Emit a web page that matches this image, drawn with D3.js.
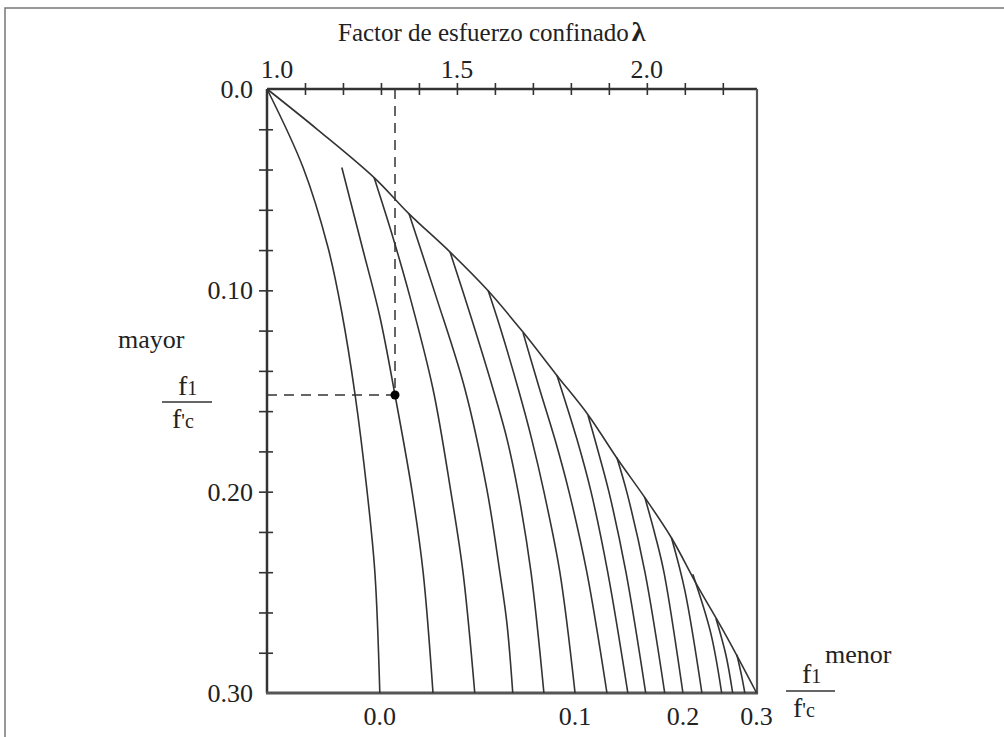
<!DOCTYPE html>
<html>
<head>
<meta charset="utf-8">
<script src="https://cdn.jsdelivr.net/npm/d3@7"></script>
<style>
    body { margin: 0; background: #fff; }
    text { font-family: "Liberation Serif", "Times New Roman", serif; fill: #222; }
</style>
</head>
<body>
<script>
// ticks and labels
const topTicks = [1.1, 1.2, 1.3, 1.4, 1.5, 1.6, 1.7, 1.8, 1.9, 2.0, 2.1, 2.2];
const topLabelValues = [1.0, 1.5, 2.0];
const leftTicks = [0.02, 0.04, 0.06, 0.08, 0.10, 0.12, 0.14, 0.16, 0.18, 0.20, 0.22, 0.24, 0.26, 0.28];
const leftLabelValues = [0, 0.1, 0.2, 0.3];
const leftLabels = ["0.0", "0.10", "0.20", "0.30"];
const bottomLabels = ["0.0", "0.1", "0.2", "0.3"];

// envelope: equal confinement, points [lambda, f1 mayor / f'c]
const envelope = [[1.000, 0], [1.132, 0.020], [1.282, 0.044], [1.374, 0.062], [1.482, 0.081],
    [1.581, 0.100], [1.675, 0.121], [1.762, 0.142], [1.846, 0.162], [1.920, 0.183],
    [1.995, 0.203], [2.065, 0.223], [2.131, 0.246], [2.210, 0.272], [2.289, 0.300]];

// one curve per value of f1 menor / f'c
const menor000 = [[1.000, 0], [1.095, 0.039], [1.161, 0.079], [1.197, 0.111], [1.232, 0.152], [1.263, 0.199], [1.284, 0.240], [1.297, 0.300]];
const menor002 = [[1.197, 0.039], [1.250, 0.078], [1.297, 0.113], [1.337, 0.152], [1.382, 0.200], [1.411, 0.240], [1.437, 0.300]];
const menor004 = [[1.282, 0.044], [1.332, 0.074], [1.376, 0.103], [1.437, 0.149], [1.484, 0.200], [1.516, 0.240], [1.547, 0.300]];
const menor006 = [[1.374, 0.062], [1.445, 0.103], [1.521, 0.149], [1.579, 0.199], [1.613, 0.240], [1.632, 0.266], [1.647, 0.300]];
const menor008 = [[1.482, 0.081], [1.540, 0.115], [1.595, 0.149], [1.632, 0.174], [1.661, 0.200], [1.695, 0.240], [1.729, 0.300]];
const menor010 = [[1.582, 0.100], [1.613, 0.118], [1.663, 0.150], [1.697, 0.174], [1.729, 0.200], [1.771, 0.240], [1.811, 0.300]];
const menor012 = [[1.674, 0.121], [1.716, 0.148], [1.758, 0.174], [1.795, 0.200], [1.842, 0.240], [1.895, 0.300]];
const menor014 = [[1.763, 0.142], [1.816, 0.174], [1.853, 0.200], [1.897, 0.240], [1.950, 0.300]];
const menor016 = [[1.845, 0.162], [1.863, 0.174], [1.900, 0.200], [1.945, 0.240], [1.997, 0.300]];
const menor018 = [[1.921, 0.183], [1.947, 0.200], [1.995, 0.240], [2.047, 0.300]];
const menor020 = [[1.995, 0.203], [2.021, 0.221], [2.045, 0.240], [2.095, 0.300]];
const menor022 = [[2.065, 0.223], [2.100, 0.249], [2.145, 0.300]];
const menor024 = [[2.121, 0.241], [2.168, 0.270], [2.197, 0.300]];
const menor026 = [[2.182, 0.263], [2.208, 0.281], [2.226, 0.300]];
const menor028 = [[2.237, 0.281], [2.249, 0.291], [2.258, 0.300]];

// example point read on the chart
const examplePoint = [1.337, 0.152];

const curves = [menor000, menor002, menor004, menor006, menor008, menor010, menor012, menor014,
    menor016, menor018, menor020, menor022, menor024, menor026, menor028];
// curves that carry the bottom labels (last one is the envelope end)
const labelledCurves = [menor000, menor010, menor020, envelope];

// scales
const x = d3.scaleLinear([1.0, 2.29], [267, 757]);
const y = d3.scaleLinear([0, 0.3], [89, 693]);

let svg = d3.select("body")
    .append("svg")
    .attr("width", 1004)
    .attr("height", 737);

// page border
svg.append("path")
    .attr("d", "M5,737 V8 H1004")
    .attr("fill", "none")
    .style("stroke", "#777")
    .style("stroke-width", 1.5);

// top axis ticks, crossing the line
let gTop = svg.append("g")
    .attr("transform", `translate(0, ${y(0)})`)
    .call(d3.axisTop(x).tickValues(topTicks).tickSize(6).tickFormat(""));
gTop.select(".domain").remove();
gTop.selectAll(".tick line")
    .attr("y1", 6)
    .attr("y2", -6)
    .style("stroke", "#333")
    .style("stroke-width", 1.6);

// left axis ticks
let gLeft = svg.append("g")
    .attr("transform", `translate(${x(1)}, 0)`)
    .call(d3.axisLeft(y).tickValues(leftTicks).tickSize(8).tickFormat(""));
gLeft.select(".domain").remove();
gLeft.selectAll(".tick line")
    .attr("x1", 6)
    .attr("x2", -8)
    .style("stroke", "#333")
    .style("stroke-width", 1.6);

// frame
let x0 = x(1), x1 = x(2.29), y0 = y(0), y1 = y(0.3);
svg.append("line").attr("x1", x0).attr("x2", x1).attr("y1", y0).attr("y2", y0)
    .style("stroke", "#333").style("stroke-width", 2.5);
svg.append("line").attr("x1", x0).attr("x2", x0).attr("y1", y0).attr("y2", y1)
    .style("stroke", "#333").style("stroke-width", 2.5);
svg.append("line").attr("x1", x1).attr("x2", x1).attr("y1", y0).attr("y2", y1 + 1)
    .style("stroke", "#555").style("stroke-width", 2.2);
svg.append("line").attr("x1", x0 - 1).attr("x2", x1 + 1).attr("y1", y1).attr("y2", y1)
    .style("stroke", "#555").style("stroke-width", 3);

// top labels
svg.selectAll("text.topLabel")
    .data(topLabelValues)
    .enter()
    .append("text")
    .attr("class", "topLabel")
    .attr("x", (d, i) => x(d) + (i === 0 ? 10 : 0))
    .attr("y", 78)
    .attr("text-anchor", "middle")
    .style("font-size", "26px")
    .text(d => d3.format(".1f")(d));

// left labels
svg.selectAll("text.leftLabel")
    .data(leftLabelValues)
    .enter()
    .append("text")
    .attr("class", "leftLabel")
    .attr("x", 253)
    .attr("y", d => y(d) + 9)
    .attr("text-anchor", "end")
    .style("font-size", "26px")
    .text((d, i) => leftLabels[i]);

// curves
let line = d3.line()
    .x(d => x(d[0]))
    .y(d => y(d[1]))
    .curve(d3.curveCatmullRom.alpha(0.5));

svg.selectAll("path.menor")
    .data(curves)
    .enter()
    .append("path")
    .attr("class", "menor")
    .attr("d", line)
    .attr("fill", "none")
    .style("stroke", "#333")
    .style("stroke-width", 1.6);

svg.append("path")
    .datum(envelope)
    .attr("d", line)
    .attr("fill", "none")
    .style("stroke", "#333")
    .style("stroke-width", 1.6);

// bottom labels under the curve ends
svg.selectAll("text.bottomLabel")
    .data(labelledCurves)
    .enter()
    .append("text")
    .attr("class", "bottomLabel")
    .attr("x", d => x(d[d.length - 1][0]))
    .attr("y", 725)
    .attr("text-anchor", "middle")
    .style("font-size", "26px")
    .text((d, i) => bottomLabels[i]);

// dashed guide lines and point
svg.append("line")
    .attr("x1", x(examplePoint[0])).attr("x2", x(examplePoint[0]))
    .attr("y1", y(0)).attr("y2", y(examplePoint[1]))
    .style("stroke", "#333").style("stroke-width", 1.5)
    .style("stroke-dasharray", "10,7");
svg.append("line")
    .attr("x1", x(1)).attr("x2", x(examplePoint[0]))
    .attr("y1", y(examplePoint[1])).attr("y2", y(examplePoint[1]))
    .style("stroke", "#333").style("stroke-width", 1.5)
    .style("stroke-dasharray", "10,7");
svg.append("circle")
    .attr("cx", x(examplePoint[0]))
    .attr("cy", y(examplePoint[1]))
    .attr("r", 4.5)
    .style("fill", "#000");

// title
let title = svg.append("text")
    .attr("x", 338)
    .attr("y", 41)
    .style("font-size", "25px");
title.append("tspan").text("Factor de esfuerzo confinado");
title.append("tspan").attr("dx", 3).style("font-size", "28px").style("font-weight", "bold").text("λ");

// left axis label
svg.append("text").attr("x", 118).attr("y", 348).style("font-size", "26px").text("mayor");
let fl = svg.append("text").attr("x", 178).attr("y", 395).style("font-size", "28px");
fl.append("tspan").text("f");
fl.append("tspan").style("font-size", "20px").text("1");
svg.append("line").attr("x1", 162).attr("x2", 212).attr("y1", 402).attr("y2", 402)
    .style("stroke", "#333").style("stroke-width", 1.6);
let fcl = svg.append("text").attr("x", 172).attr("y", 428).style("font-size", "28px");
fcl.append("tspan").text("f");
fcl.append("tspan").style("font-size", "20px").text("'c");

// bottom axis label
let fr = svg.append("text").attr("x", 802).attr("y", 683).style("font-size", "28px");
fr.append("tspan").text("f");
fr.append("tspan").style("font-size", "20px").text("1");
svg.append("text").attr("x", 825).attr("y", 663).style("font-size", "26px").text("menor");
svg.append("line").attr("x1", 786).attr("x2", 835).attr("y1", 691).attr("y2", 691)
    .style("stroke", "#333").style("stroke-width", 1.6);
let fcr = svg.append("text").attr("x", 793).attr("y", 717).style("font-size", "28px");
fcr.append("tspan").text("f");
fcr.append("tspan").style("font-size", "20px").text("'c");
</script>
</body>
</html>
